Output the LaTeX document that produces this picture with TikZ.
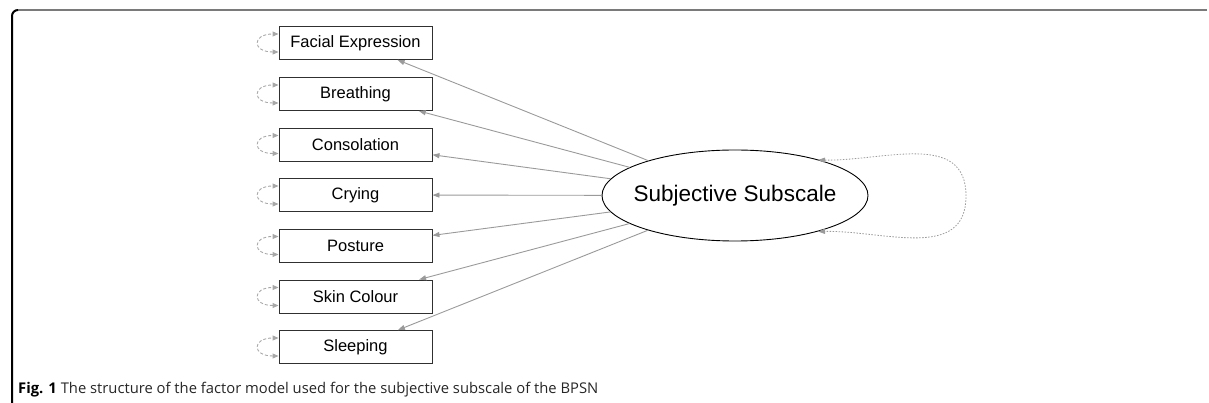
\documentclass[tikz,border=0pt]{standalone}
\usepackage{fontspec}
\setmainfont{Liberation Sans}
\newfontfamily\capfont{Open Sans}
\usetikzlibrary{shapes.geometric,arrows.meta,calc}
\definecolor{edgegray}{HTML}{9A9A9A}
\definecolor{loopgray}{HTML}{A8A8A8}
\definecolor{boxline}{HTML}{303030}
\definecolor{topline}{HTML}{7A7A7A}
\begin{document}
\begin{tikzpicture}[x=1pt,y=1pt,
  obsbox/.style={draw=boxline,line width=0.9pt,fill=white,minimum width=153pt,minimum height=33pt,inner sep=0pt,font=\fontsize{16.5}{18}\selectfont},
  latent/.style={draw=black,line width=0.9pt,fill=white,ellipse,minimum width=266pt,minimum height=91pt,inner xsep=-15pt,inner ysep=0pt,font=\fontsize{22.5}{26}\selectfont},
  load/.style={draw=edgegray,line width=0.9pt,-{Triangle[length=7pt,width=5pt]}},
  varloop/.style={draw=loopgray,line width=0.9pt,dash pattern=on 3pt off 2pt,{Triangle[length=6pt,width=5pt]}-{Triangle[length=6pt,width=5pt]}},
  latloop/.style={draw=edgegray,line width=0.8pt,dash pattern=on 1.5pt off 1.5pt,{Triangle[length=7pt,width=5pt]}-{Triangle[length=7pt,width=5pt]}}
]
\useasboundingbox (0,0) rectangle (1209,-403);
% frame
\draw[topline,line width=2.5pt] (1207,-10) -- (18,-10);
\draw[black,line width=2pt] (18,-10) arc[start angle=90,end angle=180,radius=6] -- (12,-403);

% observed variables
\node[obsbox] (fe) at (355.5,-43) {Facial Expression};
\node[obsbox] (br) at (355.5,-94) {Breathing};
\node[obsbox] (co) at (355.5,-144.5) {Consolation};
\node[obsbox] (cr) at (355.5,-195) {Crying};
\node[obsbox] (po) at (355.5,-245.5) {Posture};
\node[obsbox] (sk) at (355.5,-296.5) {Skin Colour};
\node[obsbox] (sl) at (355.5,-347) {Sleeping};

% latent
\node[latent] (ss) at (735,-195.5) {Subjective Subscale};

% loadings
\foreach \b in {fe,br,co,cr,po,sk,sl}{
  \draw[load] (ss) -- (\b);
  \draw[varloop] ($(\b.west)+(0,-9)$) to[out=180,in=180,looseness=3.8] ($(\b.west)+(0,9)$);
}

% latent variance
\coordinate (lt) at (818,-160);
\coordinate (lr) at (966,-196);
\coordinate (lb) at (818,-231.5);
\draw[latloop] (lt) to[out=-1,in=90,looseness=1.1] (lr) to[out=-90,in=1,looseness=1.1] (lb);

% caption
\node[anchor=base west,inner sep=0pt] (cap) at (18,-393) {\resizebox{580pt}{!}{\capfont\color{black!85}\textbf{\color{black}Fig. 1} The structure of the factor model used for the subjective subscale of the BPSN}};
\end{tikzpicture}
\end{document}
